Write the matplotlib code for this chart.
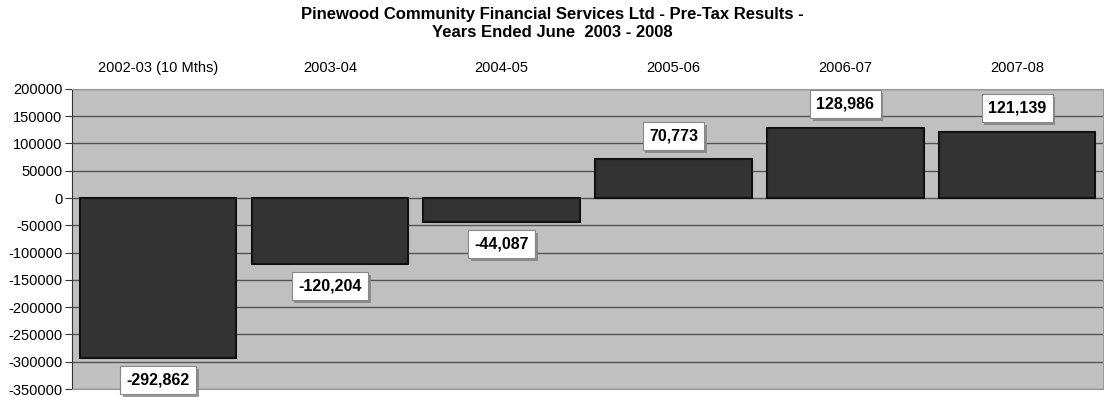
import numpy as np
import matplotlib.pyplot as plt
import matplotlib.patheffects as pe

plt.rcParams['font.family'] = ['Liberation Sans', 'DejaVu Sans']
plt.rcParams['axes.unicode_minus'] = False

# Pre-tax results by financial year
years = ['2002-03 (10 Mths)', '2003-04', '2004-05', '2005-06', '2006-07', '2007-08']
results = [-292862, -120204, -44087, 70773, 128986, 121139]

fig = plt.figure(figsize=(11.04, 3.97), dpi=100)
ax = fig.add_axes([0.0652, 0.020, 0.934, 0.756])
ax.set_facecolor('#c0c0c0')

x = np.arange(len(years))
ax.bar(x, results, width=0.91, color='#333333', edgecolor='#111111', linewidth=1.5, zorder=3)

ax.set_ylim(-350000, 200000)
ax.set_xlim(-0.5, len(years) - 0.5)
ax.set_yticks(np.arange(-350000, 200001, 50000))
ax.yaxis.grid(True, color='#555555', linewidth=1.0, zorder=0)
ax.tick_params(axis='y', labelsize=10.5, length=5, color='#333333', pad=2)

# category labels along the top
ax.xaxis.tick_top()
ax.set_xticks(x)
ax.set_xticklabels(years, fontsize=10.5)
ax.tick_params(axis='x', length=0, pad=10)

for s in ['top', 'right', 'bottom']:
    ax.spines[s].set_color('#999999')
ax.spines['left'].set_color('#333333')

for xi, v in zip(x, results):
    off = 17 if v > 0 else -16
    t = ax.annotate(f'{v:,}', (xi, v), xytext=(0, off), textcoords='offset points',
                    ha='center', va='center', fontsize=11.5, fontweight='bold', zorder=5,
                    bbox=dict(boxstyle='square,pad=0.4', facecolor='white',
                              edgecolor='#888888', linewidth=0.8))
    t.get_bbox_patch().set_path_effects([
        pe.SimplePatchShadow(offset=(2, -2), shadow_rgbFace='#808080', alpha=0.8), pe.Normal()])

fig.text(0.5, 0.983, 'Pinewood Community Financial Services Ltd - Pre-Tax Results -\nYears Ended June  2003 - 2008',
         ha='center', va='top', fontsize=12, fontweight='bold', linespacing=1.25)

fig.savefig('out.png', dpi=100)
